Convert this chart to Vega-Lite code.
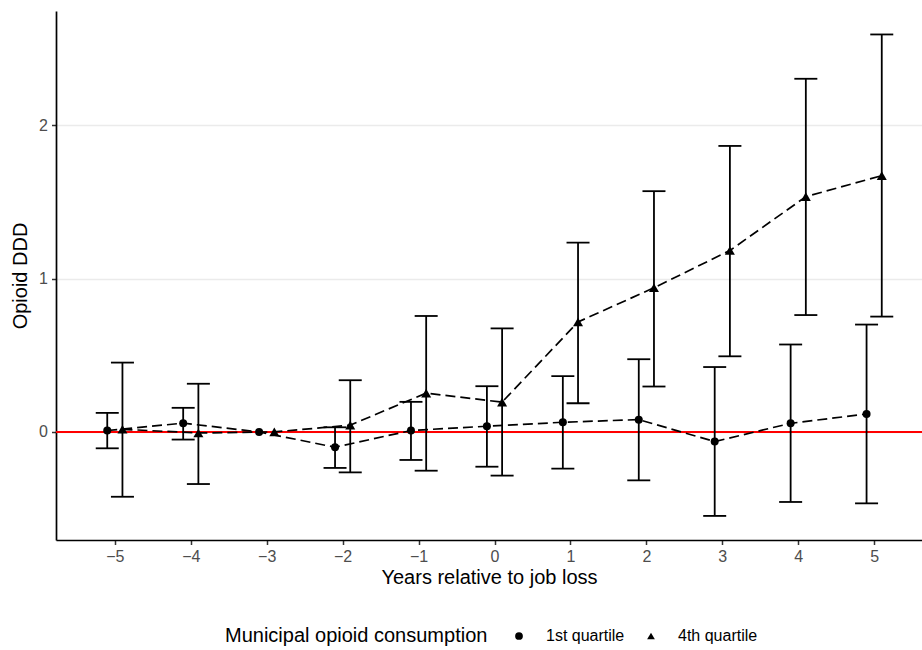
{
  "$schema": "https://vega.github.io/schema/vega-lite/v6.json",
  "width": 866,
  "height": 529,
  "autosize": {"type": "none"},
  "padding": {"left": 56, "top": 11, "right": 0, "bottom": 110},
  "background": "white",
  "data": {
    "values": [
      {"year": -5, "group": "1st quartile", "est": 0.009, "lo": -0.107, "hi": 0.124},
      {"year": -4, "group": "1st quartile", "est": 0.057, "lo": -0.05, "hi": 0.157},
      {"year": -3, "group": "1st quartile", "est": 0.0, "lo": null, "hi": null},
      {"year": -2, "group": "1st quartile", "est": -0.1, "lo": -0.235, "hi": 0.03},
      {"year": -1, "group": "1st quartile", "est": 0.009, "lo": -0.183, "hi": 0.196},
      {"year": 0, "group": "1st quartile", "est": 0.037, "lo": -0.227, "hi": 0.298},
      {"year": 1, "group": "1st quartile", "est": 0.063, "lo": -0.24, "hi": 0.364},
      {"year": 2, "group": "1st quartile", "est": 0.08, "lo": -0.316, "hi": 0.474},
      {"year": 3, "group": "1st quartile", "est": -0.063, "lo": -0.548, "hi": 0.423},
      {"year": 4, "group": "1st quartile", "est": 0.056, "lo": -0.457, "hi": 0.57},
      {"year": 5, "group": "1st quartile", "est": 0.117, "lo": -0.466, "hi": 0.7},
      {"year": -5, "group": "4th quartile", "est": 0.017, "lo": -0.423, "hi": 0.452},
      {"year": -4, "group": "4th quartile", "est": -0.007, "lo": -0.34, "hi": 0.314},
      {"year": -3, "group": "4th quartile", "est": 0.0, "lo": null, "hi": null},
      {"year": -2, "group": "4th quartile", "est": 0.044, "lo": -0.264, "hi": 0.337},
      {"year": -1, "group": "4th quartile", "est": 0.253, "lo": -0.253, "hi": 0.756},
      {"year": 0, "group": "4th quartile", "est": 0.194, "lo": -0.285, "hi": 0.675},
      {"year": 1, "group": "4th quartile", "est": 0.717, "lo": 0.187, "hi": 1.235},
      {"year": 2, "group": "4th quartile", "est": 0.94, "lo": 0.296, "hi": 1.57},
      {"year": 3, "group": "4th quartile", "est": 1.183, "lo": 0.493, "hi": 1.865},
      {"year": 4, "group": "4th quartile", "est": 1.534, "lo": 0.762, "hi": 2.303},
      {"year": 5, "group": "4th quartile", "est": 1.671, "lo": 0.752, "hi": 2.592}
    ]
  },
  "encoding": {
    "x": {
      "field": "year",
      "type": "quantitative",
      "scale": {"domain": [-5.775, 5.63], "nice": false, "zero": false},
      "axis": {
        "title": "Years relative to job loss",
        "values": [-5, -4, -3, -2, -1, 0, 1, 2, 3, 4, 5],
        "grid": false,
        "format": "d"
      }
    }
  },
  "layer": [
    {
      "mark": {"type": "rule", "color": "#FF0000", "strokeWidth": 1.7},
      "encoding": {"y": {"datum": 0}, "x": null}
    },
    {
      "transform": [{"filter": "datum.group == '1st quartile'"}],
      "mark": {"type": "line", "color": "black", "strokeWidth": 1.7, "strokeDash": [10, 5], "xOffset": -7.6},
      "encoding": {
        "y": {
          "field": "est",
          "type": "quantitative",
          "scale": {"domain": [-0.705, 2.745], "nice": false, "zero": false},
          "axis": {"title": "Opioid DDD", "values": [0, 1, 2], "grid": true, "format": "d"}
        }
      }
    },
    {
      "transform": [{"filter": "datum.group == '4th quartile'"}],
      "mark": {"type": "line", "color": "black", "strokeWidth": 1.7, "strokeDash": [10, 5], "xOffset": 7.6},
      "encoding": {"y": {"field": "est", "type": "quantitative"}}
    },
    {
      "transform": [{"filter": "datum.group == '1st quartile' && datum.lo != null"}],
      "mark": {"type": "rule", "color": "black", "strokeWidth": 1.8, "xOffset": -7.6},
      "encoding": {"y": {"field": "lo", "type": "quantitative"}, "y2": {"field": "hi"}}
    },
    {
      "transform": [{"filter": "datum.group == '4th quartile' && datum.lo != null"}],
      "mark": {"type": "rule", "color": "black", "strokeWidth": 1.8, "xOffset": 7.6},
      "encoding": {"y": {"field": "lo", "type": "quantitative"}, "y2": {"field": "hi"}}
    },
    {
      "transform": [{"filter": "datum.group == '1st quartile' && datum.lo != null"}],
      "mark": {"type": "tick", "orient": "horizontal", "color": "black", "size": 23, "thickness": 1.8, "opacity": 1, "xOffset": -7.6},
      "encoding": {"y": {"field": "lo", "type": "quantitative"}}
    },
    {
      "transform": [{"filter": "datum.group == '1st quartile' && datum.lo != null"}],
      "mark": {"type": "tick", "orient": "horizontal", "color": "black", "size": 23, "thickness": 1.8, "opacity": 1, "xOffset": -7.6},
      "encoding": {"y": {"field": "hi", "type": "quantitative"}}
    },
    {
      "transform": [{"filter": "datum.group == '4th quartile' && datum.lo != null"}],
      "mark": {"type": "tick", "orient": "horizontal", "color": "black", "size": 23, "thickness": 1.8, "opacity": 1, "xOffset": 7.6},
      "encoding": {"y": {"field": "lo", "type": "quantitative"}}
    },
    {
      "transform": [{"filter": "datum.group == '4th quartile' && datum.lo != null"}],
      "mark": {"type": "tick", "orient": "horizontal", "color": "black", "size": 23, "thickness": 1.8, "opacity": 1, "xOffset": 7.6},
      "encoding": {"y": {"field": "hi", "type": "quantitative"}}
    },
    {
      "transform": [{"filter": "datum.group == '1st quartile'"}],
      "mark": {"type": "point", "filled": true, "color": "black", "opacity": 1, "size": 64, "xOffset": -7.6},
      "encoding": {
        "y": {"field": "est", "type": "quantitative"},
        "shape": {
          "field": "group",
          "type": "nominal",
          "scale": {"domain": ["1st quartile", "4th quartile"], "range": ["circle", "triangle-up"]},
          "legend": {
            "title": "Municipal opioid consumption",
            "orient": "none",
            "legendX": 169,
            "legendY": 617,
            "direction": "horizontal",
            "titleOrient": "left",
            "titleLimit": 400
          }
        }
      }
    },
    {
      "transform": [{"filter": "datum.group == '4th quartile'"}],
      "mark": {"type": "point", "filled": true, "color": "black", "opacity": 1, "size": 100, "xOffset": 7.6},
      "encoding": {
        "y": {"field": "est", "type": "quantitative"},
        "shape": {"field": "group", "type": "nominal"}
      }
    }
  ],
  "config": {
    "font": "Liberation Sans",
    "view": {"stroke": null},
    "axis": {
      "domainColor": "black",
      "domainWidth": 1.7,
      "tickColor": "#333333",
      "tickWidth": 1.5,
      "tickSize": 4.5,
      "labelColor": "#4D4D4D",
      "labelFont": "Liberation Sans",
      "labelFontSize": 16,
      "labelPadding": 4,
      "titleFont": "Liberation Sans",
      "titleFontSize": 20,
      "titleFontWeight": "normal",
      "titleColor": "black",
      "gridColor": "#EBEBEB",
      "gridWidth": 1.5
    },
    "axisX": {"titlePadding": 3},
    "axisY": {"titlePadding": 8},
    "legend": {
      "titleFont": "Liberation Sans",
      "titleFontSize": 20,
      "titleFontWeight": "normal",
      "titleColor": "black",
      "labelFont": "Liberation Sans",
      "labelFontSize": 16,
      "labelColor": "black",
      "symbolSize": 60,
      "symbolFillColor": "black",
      "symbolStrokeWidth": 0,
      "labelOffset": 19,
      "columnPadding": 18,
      "titlePadding": 23,
      "padding": 0
    }
  }
}
